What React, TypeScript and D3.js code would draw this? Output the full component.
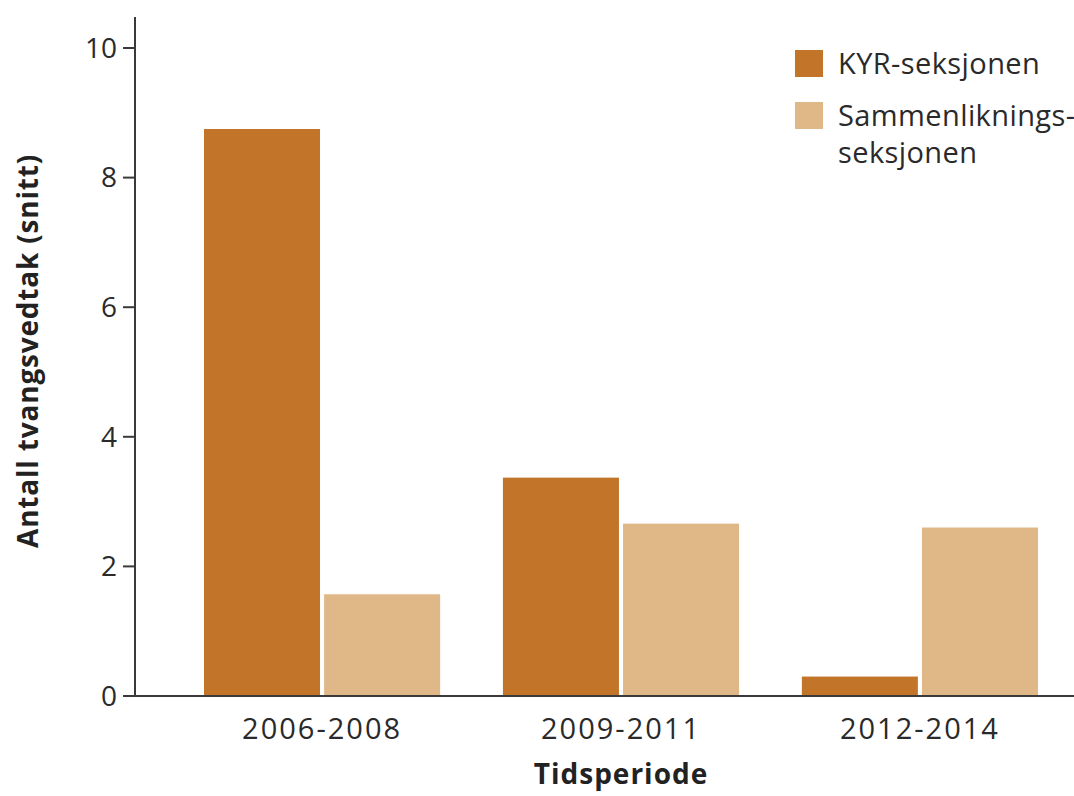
import { useEffect, useRef } from 'react';
import * as d3 from 'd3';

const periods = ['2006-2008', '2009-2011', '2012-2014'];
const seriesNames = ['KYR-seksjonen', 'Sammenliknings-seksjonen'];
const kyrValues = [8.75, 3.37, 0.3];
const compValues = [1.57, 2.66, 2.6];
const yTicks = [0, 2, 4, 6, 8, 10];
const colors = ['#c27528', '#e0b887'];

const W = 1074;
const H = 796;

export default function App() {
  const svgRef = useRef<SVGSVGElement>(null);

  useEffect(() => {
    if (!svgRef.current) return;
    const svg = d3.select(svgRef.current);
    svg.selectAll('*').remove();

    const font = "'Open Sans', sans-serif";
    const axisColor = '#3a3a3a';

    const x0 = d3.scaleBand().domain(periods).range([204, 1038]).paddingInner(0.21).paddingOuter(0);
    const x1 = d3.scaleBand().domain(seriesNames).range([0, x0.bandwidth()]).paddingInner(0.034);
    const y = d3.scaleLinear().domain([0, 10]).range([696, 48]);

    const data = periods.map((p, i) => ({ period: p, values: [kyrValues[i], compValues[i]] }));

    const groups = svg
      .append('g')
      .selectAll('g')
      .data(data)
      .enter()
      .append('g')
      .attr('transform', (d) => `translate(${x0(d.period)},0)`);

    groups
      .selectAll('rect')
      .data((d) => d.values.map((v, i) => ({ key: seriesNames[i], v, i })))
      .enter()
      .append('rect')
      .attr('x', (d) => x1(d.key)!)
      .attr('width', x1.bandwidth())
      .attr('y', (d) => y(d.v))
      .attr('height', (d) => y(0) - y(d.v))
      .attr('fill', (d) => colors[d.i]);

    // y axis
    const yAxis = svg.append('g');
    yAxis
      .append('line')
      .attr('x1', 135)
      .attr('x2', 135)
      .attr('y1', 17)
      .attr('y2', y(0))
      .attr('stroke', axisColor)
      .attr('stroke-width', 2);
    yTicks.forEach((t) => {
      yAxis
        .append('line')
        .attr('x1', 123)
        .attr('x2', 135)
        .attr('y1', y(t))
        .attr('y2', y(t))
        .attr('stroke', axisColor)
        .attr('stroke-width', 2);
      yAxis
        .append('text')
        .attr('x', 117)
        .attr('y', y(t))
        .attr('dy', '0.35em')
        .attr('text-anchor', 'end')
        .attr('font-family', font)
        .attr('font-size', 28)
        .attr('fill', '#2a2a2a')
        .text(t);
    });

    // x axis
    svg
      .append('line')
      .attr('x1', 123)
      .attr('x2', W)
      .attr('y1', y(0))
      .attr('y2', y(0))
      .attr('stroke', axisColor)
      .attr('stroke-width', 2);

    svg
      .append('g')
      .selectAll('text')
      .data(periods)
      .enter()
      .append('text')
      .attr('x', (d) => x0(d)! + x0.bandwidth() / 2)
      .attr('y', 739)
      .attr('text-anchor', 'middle')
      .attr('font-family', font)
      .attr('font-size', 29)
      .attr('letter-spacing', 2)
      .attr('fill', '#2a2a2a')
      .text((d) => d);

    // axis titles
    svg
      .append('text')
      .attr('x', x0('2009-2011')! + x0.bandwidth() / 2)
      .attr('y', 784)
      .attr('text-anchor', 'middle')
      .attr('font-family', font)
      .attr('font-weight', 700)
      .attr('font-size', 28)
      .attr('letter-spacing', 1)
      .attr('fill', '#222')
      .text('Tidsperiode');

    svg
      .append('text')
      .attr('transform', 'translate(38,351) rotate(-90)')
      .attr('text-anchor', 'middle')
      .attr('font-family', font)
      .attr('font-weight', 700)
      .attr('font-size', 28)
      .attr('letter-spacing', 0.8)
      .attr('fill', '#222')
      .text('Antall tvangsvedtak (snitt)');

    // legend
    const legend = svg.append('g');
    const legendLines = [['KYR-seksjonen'], ['Sammenliknings-', 'seksjonen']];
    const swatchY = [50, 102];
    legendLines.forEach((lines, i) => {
      legend
        .append('rect')
        .attr('x', 795)
        .attr('y', swatchY[i])
        .attr('width', 28)
        .attr('height', 27)
        .attr('fill', colors[i]);
      lines.forEach((ln, j) => {
        legend
          .append('text')
          .attr('x', 838)
          .attr('y', swatchY[i] + 24 + j * 37)
          .attr('font-family', font)
          .attr('font-size', 29)
          .attr('letter-spacing', 0.4)
          .attr('fill', '#2a2a2a')
          .text(ln);
      });
    });
  }, []);

  return (
    <svg
      ref={svgRef}
      width={W}
      height={H}
      style={{ position: 'absolute', left: 0, top: 0, background: '#fff' }}
    />
  );
}
